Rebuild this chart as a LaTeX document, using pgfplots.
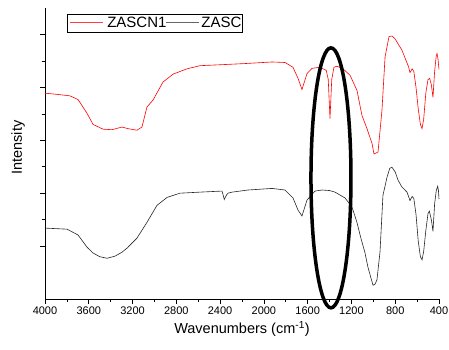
\documentclass[border=0pt]{standalone}
\usepackage{pgfplots}
\pgfplotsset{compat=1.18}
\usepackage{fontspec}
\setmainfont{Liberation Sans}
\newcommand{\lsample}[1]{\textcolor{#1}{\rule[0.33em]{33pt}{0.8pt}}}
\begin{document}
\begin{tikzpicture}
\begin{axis}[
  at={(0,0)}, anchor=south west,
  scale only axis, width=394pt, height=291pt,
  x dir=reverse, xmin=400, xmax=4000,
  ymin=0, ymax=5.5,
  axis x line=bottom, axis y line=left,
  axis line style={-, line width=0.6pt},
  xtick={400,800,...,4000},
  minor x tick num=1,
  ytick={1,2,3,4,5},
  minor y tick num=1,
  yticklabels={},
  tick align=outside,
  major tick length=4.5pt, minor tick length=3pt,
  tick style={line width=0.6pt, black},
  /pgf/number format/assume math mode=true,
  /pgf/number format/set thousands separator={},
  ticklabel style={font=\fontsize{11}{13}\selectfont},
  xlabel={Wavenumbers (cm\textsuperscript{-1})},
  ylabel={Intensity},
  label style={font=\fontsize{14.5}{16}\selectfont},
  xlabel style={at={(axis description cs:0.5,-0.103)}, anchor=center},
  ylabel style={at={(axis description cs:-0.0685,0.52)}, anchor=center},
  clip=false,
  legend columns=2,
  legend image code/.code={},
  legend style={at={(0.056,0.979)}, anchor=north west, fill=white, draw=black,
    font=\fontsize{15}{17}\selectfont, inner xsep=1pt, inner ysep=1pt,
    nodes={inner xsep=0pt},
    /tikz/every even column/.append style={column sep=0pt},
    /tikz/every odd column/.append style={column sep=0pt}},
]
\addplot[red, line width=0.6pt] coordinates {
(4000,3.89) (3900,3.87) (3772,3.84) (3698,3.77) (3616,3.51) (3561,3.30) (3470,3.21)
(3388,3.20) (3297,3.25) (3242,3.22) (3160,3.19) (3114,3.25) (3068,3.63) (3013,3.76)
(2922,4.10) (2830,4.25) (2703,4.35) (2584,4.41) (2374,4.43) (2173,4.45) (1926,4.48)
(1807,4.47) (1734,4.38) (1688,4.17) (1652,3.96) (1606,4.26) (1560,4.36) (1487,4.38)
(1430,4.32) (1412,4.15) (1396,3.41) (1380,4.15) (1360,4.38) (1332,4.40) (1277,4.35)
(1213,4.23) (1149,3.94) (1104,3.47) (1058,3.22) (1012,2.94) (994,2.74) (975,2.76)
(957,2.78) (921,3.57) (893,4.57) (857,4.96) (830,4.97) (802,4.92) (738,4.70)
(680,4.40) (665,4.28) (645,4.35) (630,4.30) (610,4.00) (590,3.60) (570,3.30)
(555,3.22) (540,3.40) (520,3.90) (500,4.15) (485,4.17) (470,4.05) (455,3.81)
(440,4.30) (425,4.60) (418,4.64) (410,4.55) (400,4.34)
};
\addlegendentry{\hspace{2pt}\lsample{red!75}\hspace{4pt}ZASCN1}
\addplot[black!85, line width=0.6pt] coordinates {
(4000,1.34) (3900,1.33) (3799,1.32) (3698,1.21) (3616,0.98) (3561,0.87) (3500,0.80)
(3433,0.77) (3360,0.81) (3300,0.88) (3251,0.96) (3160,1.15) (3068,1.45) (2977,1.77)
(2885,1.92) (2767,2.00) (2584,2.02) (2383,2.04) (2370,1.95) (2362,1.88) (2355,1.91)
(2340,1.97) (2328,2.00) (2291,2.02) (2145,2.06) (1926,2.09) (1807,2.06) (1734,1.91)
(1688,1.68) (1652,1.57) (1606,1.87) (1533,2.04) (1469,2.06) (1400,2.05) (1350,2.02)
(1259,1.91) (1195,1.74) (1150,1.45) (1120,1.20) (1076,0.87) (1049,0.60) (1003,0.26)
(985,0.28) (967,0.36) (939,0.89) (912,1.96) (875,2.30) (850,2.47) (830,2.49)
(800,2.40) (775,2.25) (740,2.12) (692,2.02) (665,1.86) (645,1.94) (630,1.90)
(610,1.60) (590,1.10) (570,0.80) (555,0.74) (540,0.90) (520,1.30) (500,1.62)
(488,1.66) (470,1.50) (455,1.28) (440,1.80) (425,2.05) (412,2.13) (405,2.05) (400,1.89)
};
\addlegendentry{\lsample{black!60}\hspace{2pt}ZASC\hspace{2pt}}
\draw[line width=3.5pt] (axis cs:1387,2.29) ellipse [x radius=20pt, y radius=130pt];
\end{axis}
\pgfresetboundingbox
\path[use as bounding box] (-45pt,-50pt) rectangle (404pt,299pt);
\end{tikzpicture}
\end{document}
